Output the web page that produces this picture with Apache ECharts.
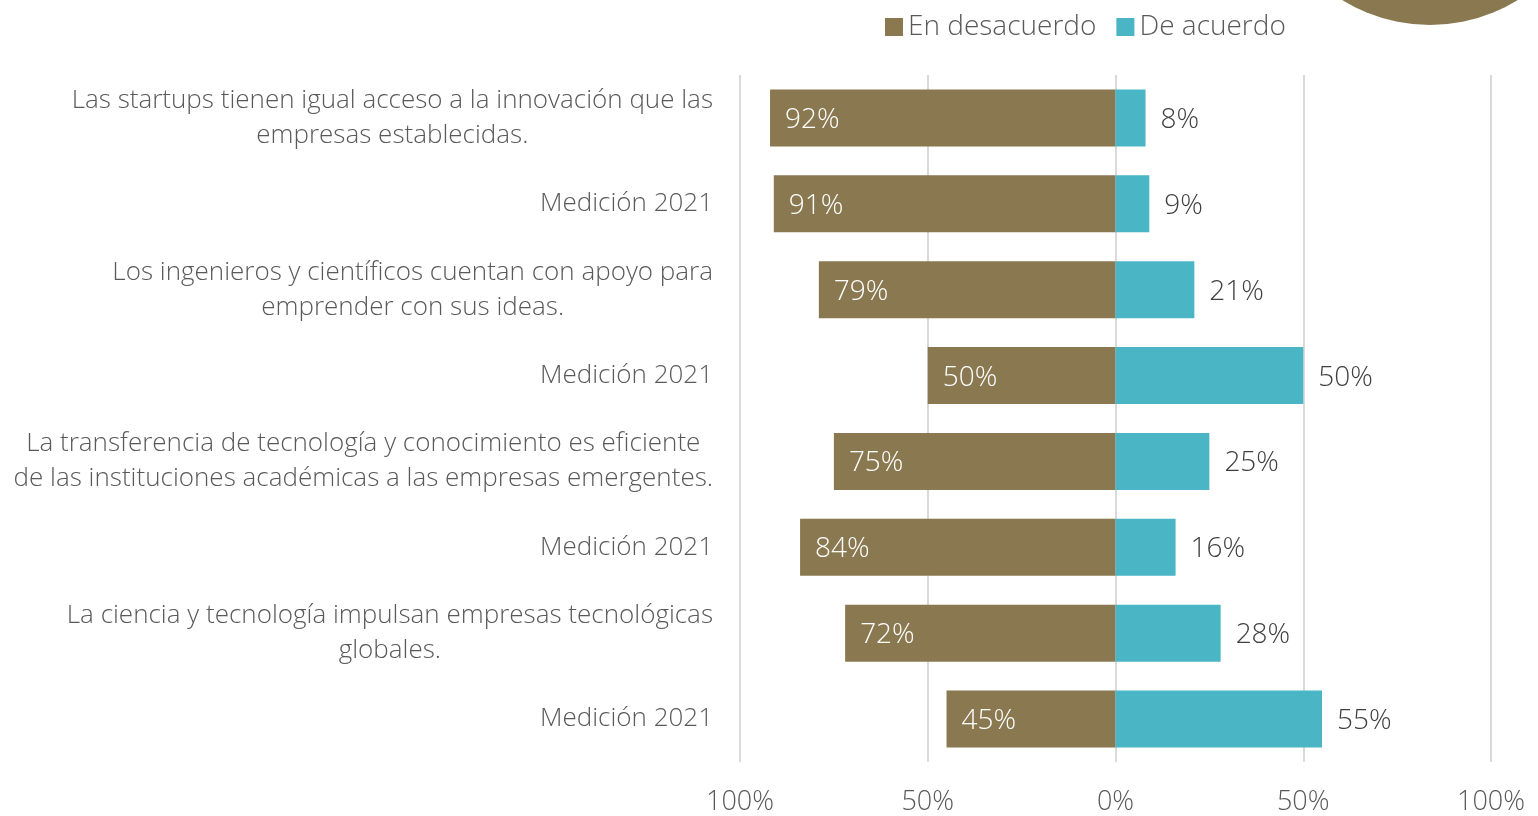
<!DOCTYPE html>
<html>
<head>
<meta charset="utf-8">
<script src="https://cdn.jsdelivr.net/npm/echarts@6/dist/echarts.min.js"></script>
<style>
  html, body { margin: 0; padding: 0; background: #fff; }
  #chart { width: 1538px; height: 816px; }
</style>
</head>
<body>
<div id="chart"></div>
<script>
  // categories, top to bottom
  const categories = [
    'Las startups tienen igual acceso a la innovación que las\nempresas establecidas.',
    'Medición 2021',
    'Los ingenieros y científicos cuentan con apoyo para\nemprender con sus ideas.',
    'Medición 2021',
    'La transferencia de tecnología y conocimiento es eficiente\nde las instituciones académicas a las empresas emergentes.',
    'Medición 2021',
    'La ciencia y tecnología impulsan empresas tecnológicas\nglobales.',
    'Medición 2021'
  ];
  const desacuerdo = [92, 91, 79, 50, 75, 84, 72, 45];
  const acuerdo = [8, 9, 21, 50, 25, 16, 28, 55];
  const axisTicks = [-100, -50, 0, 50, 100];

  const font = '"Open Sans", "Noto Sans", sans-serif';
  const brown = '#8A7950';
  const teal = '#4AB5C4';

  let chart = echarts.init(document.getElementById('chart'));
  chart.setOption({
    animation: false,
    textStyle: { fontFamily: font },
    graphic: [{
      type: 'circle',
      shape: { cx: 1430, cy: -142, r: 167 },
      style: { fill: brown },
      silent: true
    }],
    legend: {
      left: 880,
      top: 8,
      itemWidth: 18,
      itemHeight: 18,
      itemGap: 20,
      icon: 'rect',
      textStyle: { fontSize: 28, color: '#595959', fontFamily: font, fontWeight: 300 },
      data: ['En desacuerdo', 'De acuerdo']
    },
    grid: { left: 740, right: 47, top: 75, bottom: 54, containLabel: false },
    xAxis: {
      type: 'value',
      min: axisTicks[0],
      max: axisTicks[axisTicks.length - 1],
      interval: 50,
      axisLine: { show: false },
      axisTick: { show: false },
      splitLine: { lineStyle: { color: '#d9d9d9', width: 2 } },
      axisLabel: {
        margin: 27,
        fontSize: 27,
        color: '#595959',
        fontWeight: 300,
        formatter: v => Math.abs(v) + '%'
      }
    },
    yAxis: {
      type: 'category',
      inverse: true,
      data: categories,
      axisLine: { show: false },
      axisTick: { show: false },
      axisLabel: {
        margin: 27,
        color: '#595959',
        fontWeight: 300,
        formatter: v => v.split('\n').map(l => '{c|' + l + '}').join('\n'),
        rich: {
          c: { fontSize: 26, color: '#595959', fontWeight: 300, lineHeight: 35, align: 'center', fontFamily: font }
        }
      }
    },
    series: [
      {
        name: 'En desacuerdo',
        type: 'bar',
        stack: 'total',
        barWidth: 57,
        itemStyle: { color: brown },
        label: {
          show: true,
          position: 'insideLeft',
          distance: 15,
          color: '#fff',
          fontSize: 28,
          fontWeight: 300,
          offset: [0, 2],
          formatter: p => Math.abs(p.value) + '%'
        },
        data: desacuerdo.map(v => -v)
      },
      {
        name: 'De acuerdo',
        type: 'bar',
        stack: 'total',
        barWidth: 57,
        itemStyle: { color: teal },
        label: {
          show: true,
          position: 'right',
          distance: 15,
          color: '#404040',
          fontSize: 28,
          fontWeight: 300,
          offset: [0, 2],
          formatter: p => p.value + '%'
        },
        data: acuerdo
      }
    ]
  });
</script>
</body>
</html>
